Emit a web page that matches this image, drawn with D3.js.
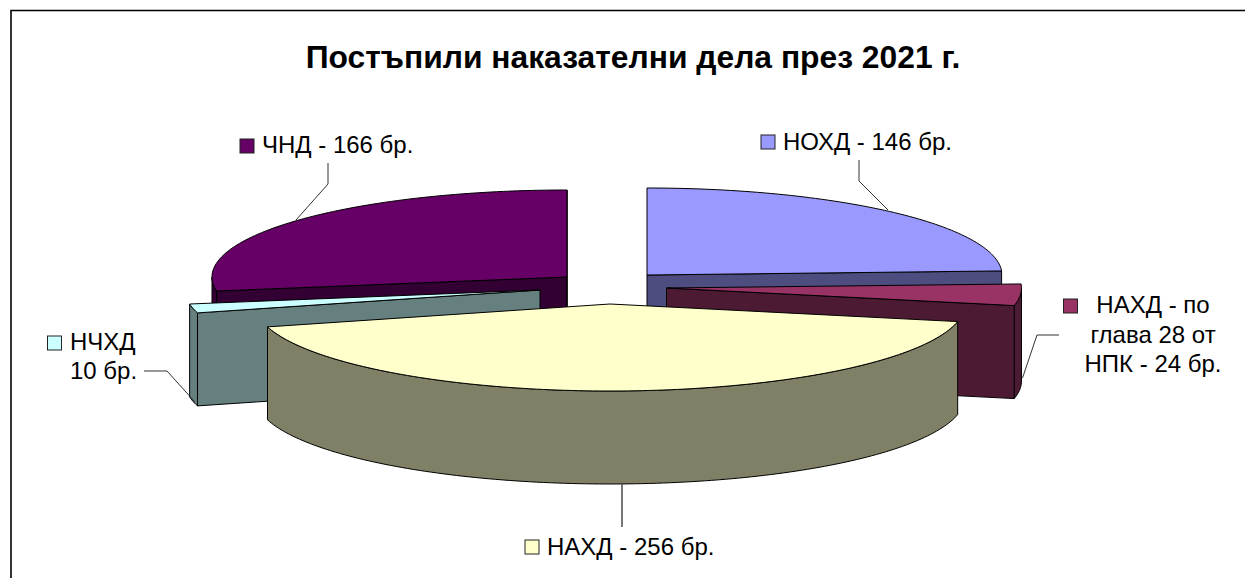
<!DOCTYPE html>
<html>
<head>
<meta charset="utf-8">
<script src="https://cdn.jsdelivr.net/npm/d3@7/dist/d3.min.js"></script>
<style>
html,body{margin:0;padding:0;background:#fff;overflow:hidden}
svg{display:block}
text{font-family:"Liberation Sans",Arial,sans-serif;fill:#000}
</style>
</head>
<body>
<div id="chart"></div>
<script>
// ---- data ----
const chartTitle = "Постъпили наказателни дела през 2021 г.";
const categories = ["НОХД", "НАХД - по глава 28 от НПК", "НАХД", "НЧХД", "ЧНД"];
const caseCounts = [146, 24, 256, 10, 166];
const labelLines = [
  ["НОХД - 146 бр."],
  ["НАХД - по", "глава 28 от", "НПК - 24 бр."],
  ["НАХД - 256 бр."],
  ["НЧХД", "10 бр."],
  ["ЧНД - 166 бр."]
];

// ---- styling / layout ----
const W = 1245, H = 578;
const topColors  = ["#9999ff", "#993366", "#ffffcc", "#ccffff", "#660066"];
const sideColors = ["#4d4d80", "#4d1a33", "#808066", "#668080", "#330033"];
const sliceCentres = [[647,275],[666.5,288],[610,304],[540,290],[567,277]];
const radiusX = 355, radiusY = 87, depth = 93;
const drawOrder = [4, 0, 3, 1, 2];
const labelLayout = [
  {key:[761,135], anchor:"start",  x:783,  y:[150]},
  {key:[1063.5,299], anchor:"middle", x:1153, y:[313,343,372]},
  {key:[525,540], anchor:"start",  x:547,  y:[555]},
  {key:[47.5,336], anchor:"start", x:70,   y:[350,379]},
  {key:[240,139], anchor:"start",  x:262,  y:[153]}
];
const leaders = [
  [[859,160],[859,181],[888,210]],
  [[1059,335],[1037,335],[1022.5,378]],
  [[622,484],[622,527]],
  [[144,371],[167,371],[195,402]],
  [[328,163],[328,184],[296,220]]
];

const svg = d3.select("#chart").append("svg").attr("width", W).attr("height", H);

// frame (only the top and left edges fall inside the picture)
svg.append("path").attr("d", d3.line()([[W,10.5],[11,10.5],[11,H]]))
  .attr("fill","none").attr("stroke","#000").attr("stroke-width",1.6);

svg.append("text").attr("x",633).attr("y",68).attr("text-anchor","middle")
  .attr("font-weight","bold").attr("font-size",31.8).text(chartTitle);

const arcs = d3.pie().sort(null).startAngle(0).endAngle(2*Math.PI)(caseCounts);
const unitX = d3.scaleLinear().domain([-1,1]).range([-radiusX,radiusX]);
const unitY = d3.scaleLinear().domain([-1,1]).range([radiusY,-radiusY]);
const line = d3.line();

function rimPoint(c, a, drop=0){
  return [c[0]+unitX(Math.sin(a)), c[1]+unitY(Math.cos(a))+drop];
}
function rim(c, a0, a1, drop=0){
  const n = Math.max(2, Math.ceil((a1-a0)/0.02));
  return d3.range(n+1).map(i => rimPoint(c, a0+(a1-a0)*i/n, drop));
}
const pieG = svg.append("g").attr("stroke","#000").attr("stroke-width",1).attr("stroke-linejoin","round");

drawOrder.forEach(i => {
  const d = arcs[i], c = sliceCentres[i];
  const a0 = d.startAngle, a1 = d.endAngle;
  const g = pieG.append("g");
  const fill = sideColors[i];
  const down = [c[0], c[1]+depth];
  // outer wall: the front half of the rim
  const f0 = Math.max(a0, Math.PI/2), f1 = Math.min(a1, 3*Math.PI/2);
  if (f1 > f0) {
    const top = rim(c,f0,f1), bottom = rim(c,f0,f1,depth).reverse();
    g.append("path").attr("fill",fill).attr("d", line(top.concat(bottom))+"Z");
  }
  // cut faces that are turned towards the viewer
  [a0, a1].forEach(a => {
    const p = rimPoint(c,a);
    const faces = (a === a1 && Math.sin(a) > 0) || (a === a0 && Math.sin(a) < 0);
    if (faces) g.append("path").attr("fill",fill)
      .attr("d", line([c, p, [p[0],p[1]+depth], down])+"Z");
  });
  // top face
  g.append("path").attr("fill",topColors[i])
    .attr("d", line([c].concat(rim(c,a0,a1)))+"Z");
});

// leaders
const leaderG = svg.append("g").attr("fill","none").attr("stroke","#333").attr("stroke-width",1);
leaders.forEach((pts,i) => leaderG.append("path").attr("d", line(pts))
  .attr("stroke-width", i===2 ? 1.6 : 1).attr("stroke", i===2 ? "#555" : "#333"));

// labels
categories.forEach((name,i) => {
  const l = labelLayout[i];
  svg.append("rect").attr("x",l.key[0]).attr("y",l.key[1]).attr("width",14).attr("height",14)
    .attr("fill",topColors[i]).attr("stroke","#222").attr("stroke-width",1);
  labelLines[i].forEach((t,j) => {
    svg.append("text").attr("x",l.x).attr("y",l.y[j]).attr("text-anchor",l.anchor)
      .attr("font-size",24).text(t);
  });
});
</script>
</body>
</html>
